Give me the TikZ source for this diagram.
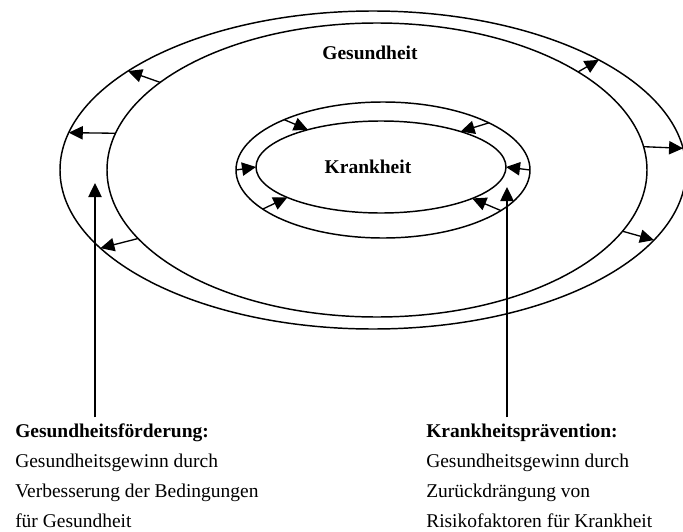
\documentclass[tikz,border=0pt]{standalone}
\usepackage{fontspec}
\setmainfont{Liberation Serif}
\usetikzlibrary{arrows.meta, positioning, shapes.geometric}

\begin{document}
\begin{tikzpicture}[
        x=0.75pt, y=-0.75pt,
        band/.style={ellipse, draw=black, line width=1.1pt, inner sep=0pt, outer sep=0pt},
        arrow/.style={-{Triangle[length=10.5pt, width=10pt]}, line width=1pt},
        title/.style={font=\fontsize{14.6}{17}\selectfont\bfseries},
        note/.style={align=left, inner sep=0pt, anchor=north west, font=\fontsize{14.6}{22.5}\selectfont}
    ]
    \useasboundingbox (0,0) rectangle (683,532);
    \node[band, minimum width=469.5pt, minimum height=238.5pt] (outer) at (373,170) {};
    \node[band, minimum width=405pt, minimum height=220.5pt] (health) at (377,170) {};
    \node[band, minimum width=220.5pt, minimum height=102pt] (ring) at (383,170) {};
    \node[band, minimum width=187.5pt, minimum height=69pt] (illness) at (381,167) {};

    \node[title] (healthlabel) at (370,53) {Gesundheit};
    \node[title] (illnesslabel) at (368,167) {Krankheit};

    \draw[arrow] (health.158) -- (outer.158);
    \draw[arrow] (health.172) -- (outer.173);
    \draw[arrow] (health.196) -- (outer.196);
    \draw[arrow] (health.26) -- (outer.26);
    \draw[arrow] (health.5) -- (outer.4.3);
    \draw[arrow] (health.-14) -- (outer.-14);

    \draw[arrow] (ring.153) -- (illness.153);
    \draw[arrow] (ring.24) -- (illness.24);
    \draw[arrow] (ring.180) -- (illness.180);
    \draw[arrow] (ring.0) -- (illness.0);
    \draw[arrow] (ring.198) -- (illness.198);
    \draw[arrow] (ring.-19) -- (illness.-19);

    \node[note] (promotion) at (15,424) {\textbf{Gesundheitsförderung:}\\Gesundheitsgewinn durch\\Verbesserung der Bedingungen\\für Gesundheit};
    \node[note] (prevention) at (426,424) {\textbf{Krankheitsprävention:}\\Gesundheitsgewinn durch\\Zurückdrängung von\\Risikofaktoren für Krankheit};

    \coordinate (promotiontip) at (95,183);
    \coordinate (preventiontip) at (507,187);
    \draw[arrow, shorten <=5pt] (promotion.north -| promotiontip) -- (promotiontip);
    \draw[arrow, shorten <=5pt] (prevention.north -| preventiontip) -- (preventiontip);
\end{tikzpicture}
\end{document}
